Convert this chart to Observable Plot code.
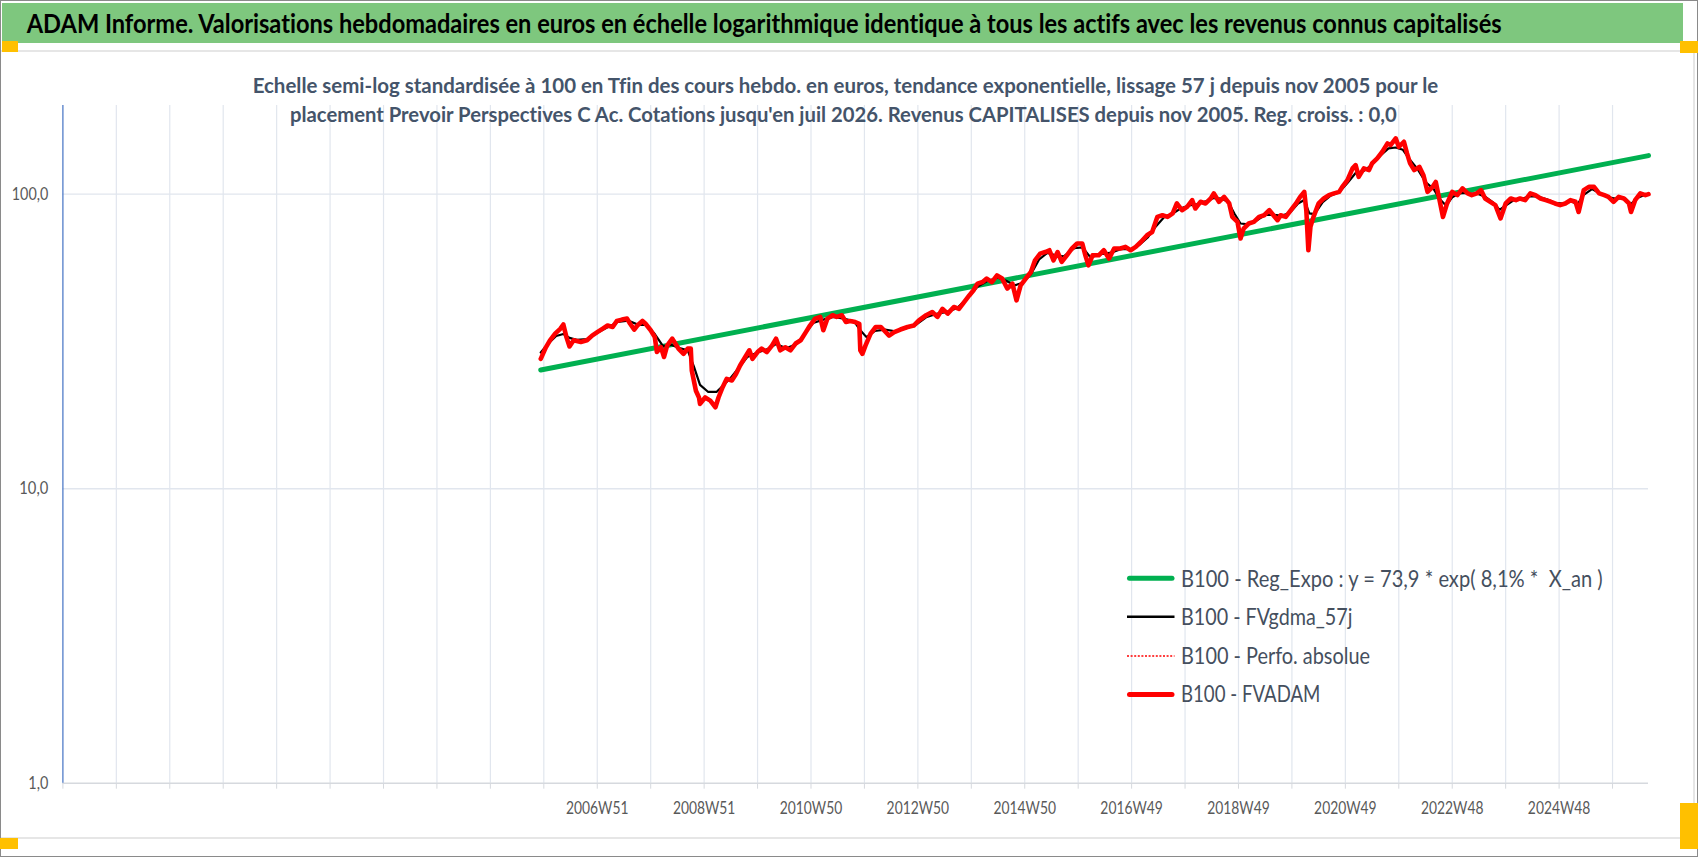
<!DOCTYPE html>
<html>
<head>
<meta charset="utf-8">
<script src="https://cdn.jsdelivr.net/npm/d3@7"></script>
<script src="https://cdn.jsdelivr.net/npm/@observablehq/plot@0.6"></script>
<style>
html, body { margin: 0; padding: 0; background: #fff; }
#page { position: relative; width: 1698px; height: 857px; overflow: hidden; background: #fff; font-family: Lato, sans-serif; font-variant-ligatures: none; }
.abs { position: absolute; }
#chart { position: absolute; left: 0; top: 0; }
#chart svg text { fill: #595959; font-variant-ligatures: none; }
#overlay { position: absolute; left: 0; top: 0; pointer-events: none; font-variant-ligatures: none; }
.handle { position: absolute; background: #FFC000; }
</style>
</head>
<body>
<div id="page">
  <div class="abs" style="left:0;top:0;width:1698px;height:857px;box-sizing:border-box;border:1px solid #8a8a8a;"></div>
  <div class="abs" style="left:2px;top:3px;width:1681px;height:40px;background:#7EC77E;"></div>
  <div class="abs" style="left:1px;top:50px;width:1694px;height:789px;box-sizing:border-box;border:2px solid #E6E6E6;border-left:none;"></div>
  <div id="chart"></div>
  <svg id="overlay" width="1698" height="857"></svg>
  <div class="handle" style="left:2px;top:41px;width:16px;height:11px;"></div>
  <div class="handle" style="left:1680px;top:41px;width:18px;height:12px;"></div>
  <div class="handle" style="left:0px;top:838px;width:18px;height:11px;"></div>
  <div class="handle" style="left:1680px;top:803px;width:18px;height:46px;"></div>
</div>
<script>
// ---------- DATA ----------
const titleText = "ADAM Informe. Valorisations hebdomadaires en euros en échelle logarithmique identique à tous les actifs avec les revenus connus capitalisés";
const subtitleLines = [
  "Echelle semi-log standardisée à 100 en Tfin des cours hebdo. en euros, tendance exponentielle, lissage 57 j depuis nov 2005 pour le",
  "placement Prevoir Perspectives C Ac. Cotations jusqu'en juil 2026. Revenus CAPITALISES depuis nov 2005. Reg. croiss. : 0,0"
];
const legendLabels = [
  "B100 - Reg_Expo : y = 73,9 * exp( 8,1% *  X_an )",
  "B100 - FVgdma_57j",
  "B100 - Perfo. absolue",
  "B100 - FVADAM"
];

// category axis: weekly index (0 = start of axis), one gridline every 52 weeks
const weekDomain = [0, 1543];
const gridWeeks = [0,52,104,156,208,260,312,364,416,468,520,572,624,676,728,780,832,884,936,988,1040,1092,1144,1196,1248,1300,1352,1404,1456,1508];
const labelWeeks = [520,624,728,832,936,1040,1144,1248,1352,1456];
const labelTexts = ["2006W51","2008W51","2010W50","2012W50","2014W50","2016W49","2018W49","2020W49","2022W48","2024W48"];
const yTicks = [1, 10, 100];
const yTickTexts = ["1,0", "10,0", "100,0"];
const yGrid = [10, 100];

// B100 - Reg_Expo (straight line on the log scale)
const trendWeeks = [465, 1543];
const trendValues = [25.3, 135.2];

// B100 - FVADAM (weekly)
const fvWeeks = [465,470,474,479,484,487,490,493,497,504,510,515,520,525,530,535,539,544,549,552,556,559,564,567,572,576,578,582,585,588,593,596,599,604,608,611,612,616,619,620,625,630,635,638,642,646,651,655,659,664,668,671,676,680,685,690,694,698,703,708,713,718,723,727,732,737,740,744,749,753,758,762,766,771,775,776,778,781,786,791,796,799,804,809,815,822,828,833,840,846,851,856,861,867,872,877,882,886,890,895,899,904,909,914,919,924,928,932,937,942,946,951,956,960,964,968,972,977,982,987,992,995,998,1002,1008,1013,1018,1023,1029,1034,1039,1044,1049,1055,1060,1065,1070,1075,1080,1084,1089,1094,1099,1102,1107,1112,1117,1120,1125,1130,1135,1138,1143,1146,1149,1154,1159,1164,1169,1174,1178,1182,1185,1190,1195,1200,1204,1208,1210,1212,1214,1217,1222,1227,1232,1237,1242,1245,1250,1255,1258,1261,1266,1271,1274,1279,1284,1289,1292,1297,1300,1305,1308,1311,1315,1320,1324,1328,1333,1336,1339,1343,1347,1352,1357,1362,1367,1371,1376,1380,1384,1389,1394,1399,1404,1409,1414,1418,1423,1428,1433,1438,1443,1448,1452,1457,1462,1467,1472,1475,1480,1485,1490,1495,1500,1504,1509,1514,1519,1524,1526,1530,1535,1540,1543];
const fvValues = [27.6,30.2,31.9,33.6,34.9,36.1,32.7,30.4,31.9,31.5,31.9,33.1,34.0,34.9,35.8,35.4,37.1,37.5,37.8,36.3,34.7,35.8,37.1,36.3,34.5,32.7,29.1,30.2,28.0,30.6,32.3,31.1,29.9,28.7,29.9,29.9,25.2,21.5,20.4,19.4,20.4,19.9,18.9,20.4,22.1,23.6,23.3,24.5,26.2,28.0,29.5,27.6,29.1,29.9,29.1,30.6,32.3,29.5,30.2,29.5,31.1,31.9,34.0,35.8,37.8,38.3,34.5,37.8,38.8,38.3,38.8,36.8,37.1,36.8,36.3,29.5,28.7,30.6,33.6,35.4,35.4,34.5,33.1,34.0,34.7,35.4,35.8,37.3,38.8,39.8,38.3,40.8,39.3,41.4,40.8,43.0,45.3,47.1,49.7,50.3,51.7,50.3,53.0,51.7,47.8,49.7,43.6,49.0,51.7,54.4,59.6,62.8,63.6,64.5,59.6,63.6,58.9,62.0,65.4,68.0,68.0,62.0,57.3,62.0,62.0,64.5,60.4,65.4,65.4,66.2,64.5,66.2,68.8,72.5,74.4,83.7,84.8,83.7,86.0,93.0,88.2,90.5,95.4,89.4,94.2,93.0,96.7,100.6,94.2,97.9,93.0,83.7,80.5,70.7,76.4,79.5,80.5,83.7,84.8,88.2,84.8,81.6,84.8,83.7,88.2,93.0,97.9,101.8,88.2,64.5,77.4,83.7,93.0,96.7,99.2,100.6,101.8,105.9,111.6,122.3,125.5,114.5,122.3,120.7,127.2,132.3,139.3,148.7,146.8,154.7,144.8,150.6,137.5,127.2,120.7,123.8,116.0,101.8,105.9,110.1,97.9,83.7,93.0,101.8,99.2,104.6,100.6,99.2,100.6,103.2,96.7,94.2,91.8,82.7,93.0,96.7,95.4,96.7,95.4,100.6,99.2,96.7,95.4,94.2,93.0,91.8,93.0,95.4,94.2,87.0,103.2,105.9,105.9,100.6,99.2,97.9,94.2,97.9,96.7,93.0,87.0,95.4,100.6,99.2,100.0];

// B100 - FVgdma_57j (smoothed series, read where visible)
const smWeeks = [465,472,480,487,493,500,510,520,530,540,550,560,568,576,584,592,600,608,614,620,628,636,642,650,658,666,676,686,694,704,714,722,730,740,750,760,770,776,782,790,800,810,820,830,840,850,860,870,880,890,900,910,918,926,934,942,950,958,966,974,984,992,1000,1010,1020,1030,1040,1048,1056,1064,1072,1080,1088,1096,1104,1112,1120,1128,1134,1140,1146,1154,1162,1170,1178,1186,1194,1202,1208,1213,1218,1226,1234,1242,1250,1258,1266,1274,1282,1290,1297,1304,1310,1318,1326,1334,1340,1346,1352,1360,1368,1376,1384,1392,1398,1404,1412,1420,1428,1436,1444,1452,1460,1468,1474,1480,1488,1496,1504,1512,1520,1526,1532,1538,1543];
const smValues = [29.0,31.0,33.0,33.5,32.5,32.0,32.2,33.8,35.3,36.8,37.2,36.0,36.0,33.5,30.5,30.8,30.0,29.5,26.0,22.5,21.3,21.3,22.3,23.8,25.8,28.0,29.0,29.8,31.0,30.0,31.0,33.5,36.5,37.5,38.3,37.8,37.0,34.5,32.7,34.3,34.7,34.2,35.0,36.0,38.2,39.2,39.8,41.0,44.3,48.5,50.8,52.0,50.8,49.0,50.0,53.5,60.0,63.2,62.0,61.5,65.5,66.0,61.0,62.5,63.3,65.2,65.0,67.5,71.5,78.0,83.8,86.0,89.5,91.5,92.5,94.5,97.0,96.5,94.0,86.0,79.5,79.0,81.5,85.0,85.0,84.5,86.5,93.0,95.5,86.0,85.5,94.0,99.0,101.5,109.0,118.0,120.0,126.0,135.0,143.0,144.0,141.5,132.0,122.0,110.0,104.0,96.0,91.5,97.5,101.0,100.5,100.5,98.0,93.5,88.5,91.5,95.5,96.5,98.5,98.0,96.0,93.5,92.8,94.5,92.5,99.5,104.0,100.5,97.5,96.5,97.0,92.5,97.0,99.0,99.6];

// ---------- BUILD ----------
const zip = (ws, vs) => ws.map((w, i) => ({w, v: vs[i]}));
const trendRows = zip(trendWeeks, trendValues);
const fvRows = zip(fvWeeks, fvValues);
const smRows = zip(smWeeks, smValues);
const labelOf = new Map(labelWeeks.map((w, i) => [w, labelTexts[i]]));
const yLabelOf = new Map(yTicks.map((t, i) => [t, yTickTexts[i]]));

const chart = Plot.plot({
  width: 1698,
  height: 857,
  marginLeft: 62.4,
  marginRight: 50,
  marginTop: 105,
  marginBottom: 74.3,
  style: {background: "transparent", fontFamily: "Lato, sans-serif", fontSize: "18px", color: "#D6D9DE", overflow: "visible"},
  x: {type: "linear", domain: weekDomain, ticks: gridWeeks, tickFormat: d => labelOf.get(d) ?? "", tickSize: 6, tickPadding: 12.5, label: null},
  y: {type: "log", domain: [1, 200], ticks: yTicks, tickFormat: d => yLabelOf.get(d) ?? "", tickSize: 0, tickPadding: 14.6, label: null},
  marks: [
    Plot.ruleX(gridWeeks.slice(1), {stroke: "#E1E6EE", strokeWidth: 1.2}),
    Plot.ruleY(yGrid, {stroke: "#E1E6EE", strokeWidth: 1.4}),
    Plot.ruleY([1], {stroke: "#D6D9DE", strokeWidth: 1.6}),
    Plot.ruleX([0], {stroke: "#4472C4", strokeWidth: 1.2}),
    Plot.line(trendRows, {x: "w", y: "v", stroke: "#00B050", strokeWidth: 5}),
    Plot.line(smRows, {x: "w", y: "v", stroke: "#000000", strokeWidth: 2.2, curve: "linear"}),
    Plot.line(fvRows, {x: "w", y: "v", stroke: "#FF0000", strokeWidth: 1.2, strokeDasharray: "2,2"}),
    Plot.line(fvRows, {x: "w", y: "v", stroke: "#FF0000", strokeWidth: 4.6, strokeLinejoin: "round"})
  ]
});
document.getElementById("chart").appendChild(chart);

// condense tick labels (narrow face like the original)
const yWidths = {"1,0": 20, "10,0": 29, "100,0": 36.5};
chart.querySelectorAll('[aria-label^="x-axis"] text').forEach(t => {
  if (t.textContent.trim()) { t.setAttribute("textLength", 62.5); t.setAttribute("lengthAdjust", "spacingAndGlyphs"); }
});
chart.querySelectorAll('[aria-label^="y-axis"] text').forEach(t => {
  const w = yWidths[t.textContent.trim()];
  if (w) { t.setAttribute("textLength", w); t.setAttribute("lengthAdjust", "spacingAndGlyphs"); t.style.fontSize = "17.5px"; }
});

// ---------- TEXT OVERLAY (title, subtitle, legend) ----------
const ov = d3.select("#overlay");
function txt(s, x, y, size, weight, fill, len) {
  return ov.append("text").attr("x", x).attr("y", y)
    .attr("font-family", "Lato, sans-serif").attr("font-size", size).attr("font-weight", weight)
    .attr("fill", fill).attr("textLength", len).attr("lengthAdjust", "spacingAndGlyphs")
    .style("white-space", "pre").text(s);
}
txt(titleText, 26.7, 33, 26, 700, "#000000", 1475);
txt(subtitleLines[0], 252.7, 93, 21.5, 700, "#44546A", 1185.6);
txt(subtitleLines[1], 290, 122, 21.5, 700, "#44546A", 1106.7);

const legendStyles = [
  {stroke: "#00B050", width: 5, dash: null, cap: "round"},
  {stroke: "#000000", width: 2.6, dash: null, cap: "butt"},
  {stroke: "#FF0000", width: 1.5, dash: "2,1.6", cap: "butt"},
  {stroke: "#FF0000", width: 5, dash: null, cap: "round"}
];
const legendLineY = [578.3, 616.7, 656, 694.5];
const legendBase = [586.5, 624.8, 663.8, 702.4];
const legendLens = [421.7, 171.5, 189, 139.4];
legendLabels.forEach((s, i) => {
  const st = legendStyles[i];
  const r = st.cap === "round" ? st.width / 2 : 0;
  const ln = ov.append("line").attr("x1", 1127 + r).attr("x2", 1174.5 - r)
    .attr("y1", legendLineY[i]).attr("y2", legendLineY[i])
    .attr("stroke", st.stroke).attr("stroke-width", st.width).attr("stroke-linecap", st.cap);
  if (st.dash) ln.attr("stroke-dasharray", st.dash);
  txt(s, 1181, legendBase[i], 22.5, 400, "#454F5E", legendLens[i]);
});
</script>
</body>
</html>
